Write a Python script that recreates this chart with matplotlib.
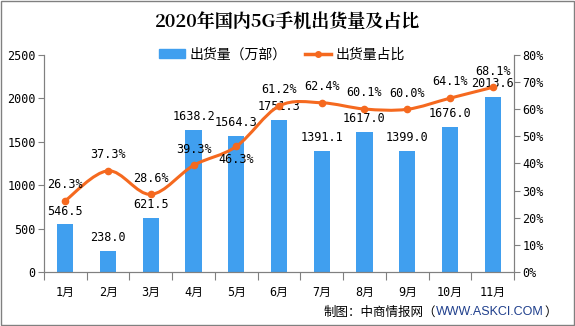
import numpy as np
import matplotlib.pyplot as plt
from matplotlib.path import Path
from matplotlib.patches import PathPatch, Rectangle
from matplotlib.lines import Line2D

plt.rcParams['font.family'] = ['Noto Sans CJK SC', 'DejaVu Sans']

# 数据
months = ['1月', '2月', '3月', '4月', '5月', '6月', '7月', '8月', '9月', '10月', '11月']
shipments = [546.5, 238.0, 621.5, 1638.2, 1564.3, 1751.3, 1391.1, 1617.0, 1399.0, 1676.0, 2013.6]
share = [26.3, 37.3, 28.6, 39.3, 46.3, 61.2, 62.4, 60.1, 60.0, 64.1, 68.1]

bar_color = '#409FEF'
line_color = '#F5691F'
axis_color = '#808080'
mono = ['DejaVu Sans Mono', 'Noto Sans CJK SC']

fig = plt.figure(figsize=(5.75, 3.26), dpi=100)
ax = fig.add_axes([0.0765, 0.166, 0.8175, 0.665])
ax2 = ax.twinx()

x = np.arange(len(months))
ax.bar(x, shipments, width=0.38, color=bar_color, zorder=2)
ax.set_xlim(-0.5, len(months) - 0.5)
ax.set_ylim(0, 2500)
ax.set_yticks(np.arange(0, 2501, 500))
ax2.set_ylim(0, 80)
ax2.set_yticks(np.arange(0, 81, 10))
ax2.set_yticklabels([f'{v}%' for v in range(0, 81, 10)])

# 平滑曲线 (Catmull-Rom -> Bezier)
pts = np.column_stack([x, share]).astype(float)
verts = [tuple(pts[0])]
codes = [Path.MOVETO]
for i in range(len(pts) - 1):
    p0 = pts[i - 1] if i > 0 else pts[i]
    p1, p2 = pts[i], pts[i + 1]
    p3 = pts[i + 2] if i + 2 < len(pts) else pts[i + 1]
    c1 = p1 + (p2 - p0) / 6
    c2 = p2 - (p3 - p1) / 6
    verts += [tuple(c1), tuple(c2), tuple(p2)]
    codes += [Path.CURVE4] * 3
ax2.add_patch(PathPatch(Path(verts, codes), fill=False, edgecolor=line_color,
                        lw=2.2, zorder=3))
ax2.plot(x, share, 'o', color=line_color, ms=4.5, zorder=4)

# 标签
for xi, v in zip(x, shipments):
    ax.annotate(f'{v:.1f}', (xi, v), xytext=(0, 5), textcoords='offset points',
                ha='center', va='bottom', fontsize=8.5, family=mono, zorder=5)
for xi, v in zip(x, share):
    if months[xi] == '5月':
        ax2.annotate(f'{v:.1f}%', (xi, v), xytext=(0, -5), textcoords='offset points',
                     ha='center', va='top', fontsize=8.5, family=mono, zorder=5)
    else:
        ax2.annotate(f'{v:.1f}%', (xi, v), xytext=(0, 7), textcoords='offset points',
                     ha='center', va='bottom', fontsize=8.5, family=mono, zorder=5)

# 坐标轴样式
for a in (ax, ax2):
    a.spines['top'].set_visible(False)
    for s in ['left', 'right', 'bottom']:
        a.spines[s].set_color(axis_color)
ax.set_xticks(np.arange(-0.5, len(months), 1), minor=False)
ax.set_xticklabels([])
ax.set_xticks(x, minor=True)
ax.set_xticklabels(months, minor=True, fontsize=8.5, family=mono)
ax.tick_params(axis='x', which='major', length=6, color=axis_color)
ax.tick_params(axis='x', which='minor', length=0, pad=10)
ax.tick_params(axis='y', length=4, color=axis_color, labelsize=8.5, pad=2)
ax2.tick_params(axis='y', length=4, color=axis_color, labelsize=8.5, pad=2)
for lab in ax.get_yticklabels() + ax2.get_yticklabels():
    lab.set_family(mono)

# 标题
fig.text(0.5, 0.93, '2020年国内5G手机出货量及占比', ha='center', va='center',
         fontsize=13, fontweight='bold', family=['Noto Serif CJK SC', 'Noto Sans CJK SC'])

# 图例
handles = [Rectangle((0, 0), 1, 1, color=bar_color),
           Line2D([0], [0], color=line_color, lw=2.5, marker='o', ms=4)]
fig.legend(handles, ['出货量（万部）', '出货量占比'], loc='center', ncol=2,
           bbox_to_anchor=(0.49, 0.832), frameon=False, fontsize=10,
           handlelength=1.9, handleheight=0.6, columnspacing=1.3, handletextpad=0.3)

# 来源（网址部分用深蓝色）
t1 = fig.text(0.968, 0.043, '）', ha='right', va='center', fontsize=9)
a2 = ax.annotate('WWW.ASKCI.COM', xy=(0, 0.5), xycoords=t1, ha='right', va='center',
                 fontsize=9, color='#1F3F8C', family=['Liberation Sans'],
                 annotation_clip=False)
ax.annotate('制图：中商情报网（', xy=(0, 0.5), xycoords=a2, ha='right', va='center',
            fontsize=9, annotation_clip=False)

fig.patches.append(Rectangle((0.001, 0.002), 0.997, 0.995, transform=fig.transFigure,
                             fill=False, edgecolor=axis_color, lw=1))

fig.savefig('out.png', dpi=100)
